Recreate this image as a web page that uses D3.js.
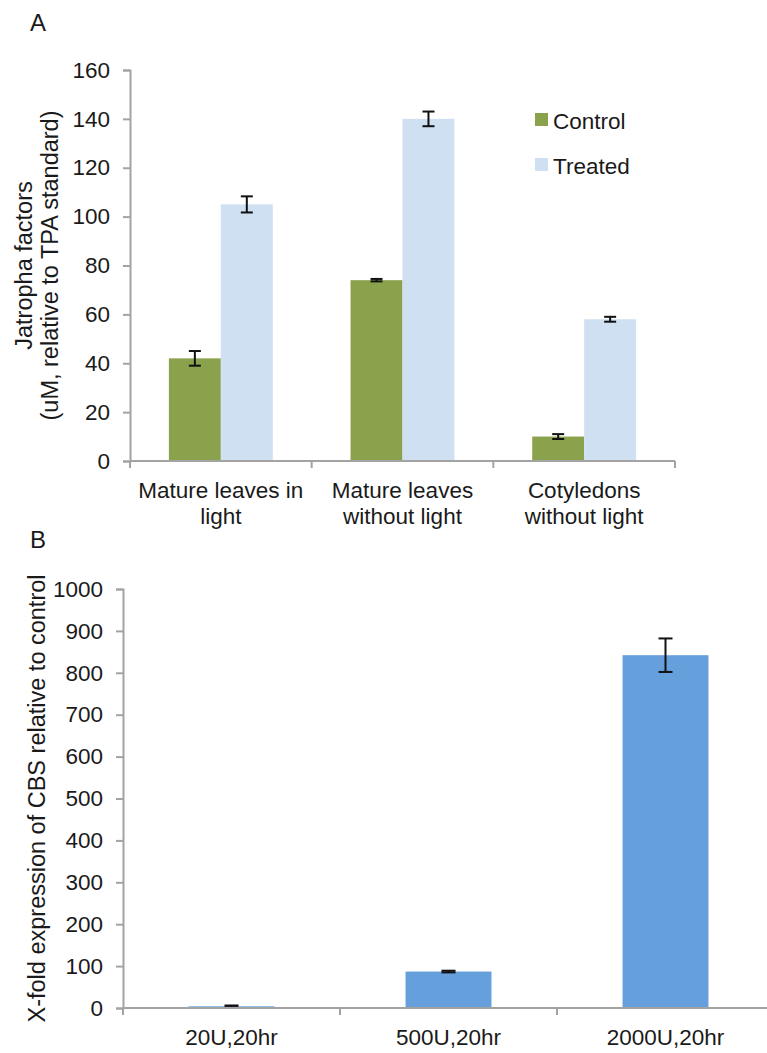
<!DOCTYPE html>
<html>
<head>
<meta charset="utf-8">
<script src="https://cdn.jsdelivr.net/npm/d3@7/dist/d3.min.js"></script>
<style>
  html, body { margin: 0; padding: 0; background: #fff; }
  svg { display: block; }
  text { font-family: "Liberation Sans", Arial, sans-serif; fill: #1a1a1a; }
</style>
</head>
<body>
<svg id="fig" width="767" height="1053"></svg>
<script>
// Panel A: Jatropha factor content
const tissues = [["Mature leaves in", "light"], ["Mature leaves", "without light"], ["Cotyledons", "without light"]];
const seriesNames = ["Control", "Treated"];
const controlValues = [42, 74, 10];
const controlErrors = [3, 0.5, 1];
const treatedValues = [105, 140, 58];
const treatedErrors = [3.3, 3, 1];
const ticksA = [0, 20, 40, 60, 80, 100, 120, 140, 160];

// Panel B: CBS expression by elicitor dose
const doses = ["20U,20hr", "500U,20hr", "2000U,20hr"];
const foldValues = [4, 87, 842];
const foldErrors = [2, 2, 40];
const ticksB = [0, 100, 200, 300, 400, 500, 600, 700, 800, 900, 1000];

const colors = { Control: "#8aa24c", Treated: "#cfe0f3" };
const blue = "#659fdc";
const axisColor = "#a3a3a3";
const fontSize = 22.5;

const svg = d3.select("#fig");

function styleAxis(g) {
  g.selectAll(".domain").attr("stroke", axisColor).attr("stroke-width", 2);
  g.selectAll(".tick line").attr("stroke", axisColor).attr("stroke-width", 2);
  g.selectAll(".tick text").attr("font-size", fontSize).attr("fill", "#1a1a1a")
    .style("font-family", '"Liberation Sans", Arial, sans-serif');
}

function errorBars(g, data, y, capHalf) {
  const eb = g.append("g").attr("stroke", "#111").attr("stroke-width", 2);
  data.forEach(d => {
    const hi = y(d.v + d.e), lo = y(d.v - d.e);
    eb.append("line").attr("x1", d.cx).attr("x2", d.cx).attr("y1", hi).attr("y2", lo);
    eb.append("line").attr("x1", d.cx - capHalf).attr("x2", d.cx + capHalf).attr("y1", hi).attr("y2", hi);
    eb.append("line").attr("x1", d.cx - capHalf).attr("x2", d.cx + capHalf).attr("y1", lo).attr("y2", lo);
  });
}

// ---------- Panel A ----------
{
  const left = 130, right = 675, top = 70, bottom = 461;
  const g = svg.append("g");
  g.append("text").attr("x", 30).attr("y", 31).attr("font-size", 24).text("A");

  const y = d3.scaleLinear().domain([0, 160]).range([bottom, top]);
  const x = d3.scaleBand().domain(d3.range(tissues.length)).range([left, right])
    .paddingInner(0.428).paddingOuter(0.214);
  const xs = d3.scaleBand().domain(seriesNames).range([0, x.bandwidth()]).padding(0);

  const rows = tissues.map((t, i) => ({ i, Control: controlValues[i], Treated: treatedValues[i] }));

  rows.forEach(r => {
    seriesNames.forEach(s => {
      g.append("rect")
        .attr("x", x(r.i) + xs(s)).attr("width", xs.bandwidth())
        .attr("y", y(r[s])).attr("height", y(0) - y(r[s]))
        .attr("fill", colors[s]);
    });
  });

  const ebData = [];
  tissues.forEach((t, i) => {
    ebData.push({ cx: x(i) + xs("Control") + xs.bandwidth() / 2, v: controlValues[i], e: controlErrors[i] });
    ebData.push({ cx: x(i) + xs("Treated") + xs.bandwidth() / 2, v: treatedValues[i], e: treatedErrors[i] });
  });
  errorBars(g, ebData, y, 6);

  // y axis
  const ya = g.append("g").attr("transform", `translate(${left},0)`)
    .call(d3.axisLeft(y).tickValues(ticksA).tickSize(7).tickPadding(13));
  styleAxis(ya);

  // x axis with ticks at category boundaries
  const step = x.step();
  const xa = g.append("g").attr("transform", `translate(0,${bottom})`);
  xa.append("line").attr("x1", left).attr("x2", right).attr("stroke", axisColor).attr("stroke-width", 2);
  d3.range(tissues.length + 1).forEach(k => {
    xa.append("line").attr("x1", left + k * step).attr("x2", left + k * step)
      .attr("y1", 0).attr("y2", 7).attr("stroke", axisColor).attr("stroke-width", 2);
  });
  tissues.forEach((lines, i) => {
    const cx = x(i) + x.bandwidth() / 2;
    lines.forEach((ln, j) => {
      xa.append("text").attr("x", cx).attr("y", 37 + j * 26)
        .attr("text-anchor", "middle").attr("font-size", fontSize).text(ln);
    });
  });

  // y title
  const cy = (top + bottom) / 2;
  const yt = g.append("text").attr("transform", `translate(0,${cy}) rotate(-90)`)
    .attr("text-anchor", "middle").attr("font-size", 23.5);
  yt.append("tspan").attr("x", 0).attr("y", 32).text("Jatropha factors");
  yt.append("tspan").attr("x", 0).attr("y", 58).text("(uM, relative to TPA standard)");

  // legend
  const lg = g.append("g");
  seriesNames.forEach((s, i) => {
    const ly = 113 + i * 45;
    lg.append("rect").attr("x", 535).attr("y", ly).attr("width", 13).attr("height", 13).attr("fill", colors[s]);
    lg.append("text").attr("x", 553).attr("y", ly + 16).attr("font-size", fontSize).text(s);
  });
}

// ---------- Panel B ----------
{
  const left = 123, right = 774, top = 589, bottom = 1008;
  const g = svg.append("g");
  g.append("text").attr("x", 30).attr("y", 548).attr("font-size", 24).text("B");

  const y = d3.scaleLinear().domain([0, 1000]).range([bottom, top]);
  const x = d3.scaleBand().domain(doses).range([left, right])
    .paddingInner(0.604).paddingOuter(0.302);

  g.selectAll("rect.bar").data(doses).join("rect").attr("class", "bar")
    .attr("x", d => x(d)).attr("width", x.bandwidth())
    .attr("y", (d, i) => y(foldValues[i]))
    .attr("height", (d, i) => y(0) - y(foldValues[i]))
    .attr("fill", blue);

  errorBars(g, doses.map((d, i) => ({ cx: x(d) + x.bandwidth() / 2, v: foldValues[i], e: foldErrors[i] })), y, 7);

  const ya = g.append("g").attr("transform", `translate(${left},0)`)
    .call(d3.axisLeft(y).tickValues(ticksB).tickFormat(d3.format("d")).tickSize(7).tickPadding(13));
  styleAxis(ya);

  const step = x.step();
  const xa = g.append("g").attr("transform", `translate(0,${bottom})`);
  xa.append("line").attr("x1", left).attr("x2", right).attr("stroke", axisColor).attr("stroke-width", 2);
  d3.range(doses.length + 1).forEach(k => {
    xa.append("line").attr("x1", left + k * step).attr("x2", left + k * step)
      .attr("y1", 0).attr("y2", 7).attr("stroke", axisColor).attr("stroke-width", 2);
  });
  doses.forEach(d => {
    xa.append("text").attr("x", x(d) + x.bandwidth() / 2).attr("y", 37)
      .attr("text-anchor", "middle").attr("font-size", fontSize).text(d);
  });

  g.append("text").attr("transform", `translate(45,${(top + bottom) / 2}) rotate(-90)`)
    .attr("text-anchor", "middle").attr("font-size", 23.5)
    .text("X-fold expression of CBS relative to control");
}
</script>
</body>
</html>
